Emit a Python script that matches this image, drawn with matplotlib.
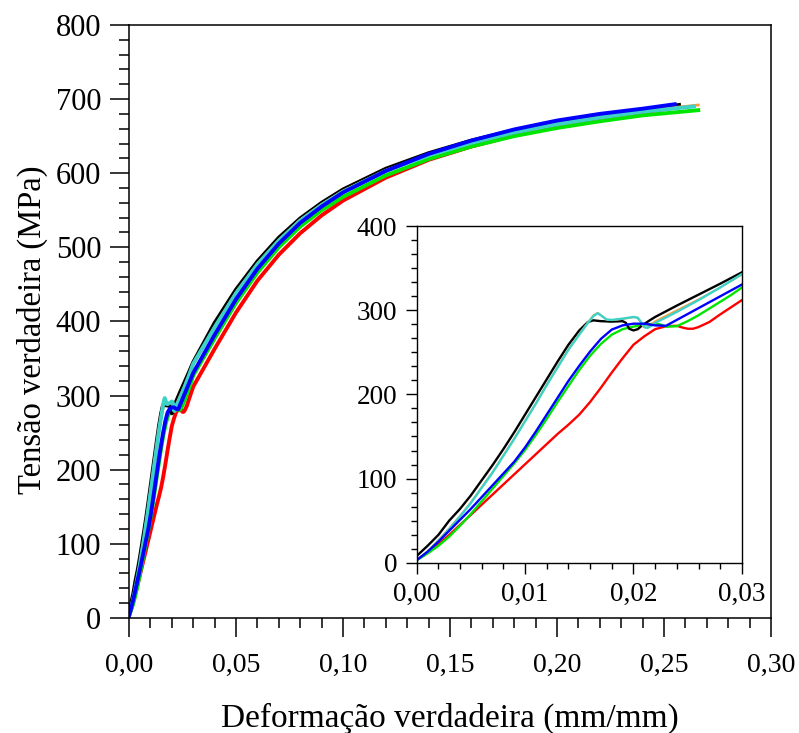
import matplotlib
matplotlib.use("Agg")
import matplotlib.pyplot as plt
from matplotlib.ticker import MultipleLocator, FuncFormatter

plt.rcParams["font.family"] = ["Liberation Serif", "DejaVu Serif"]

# True strain (mm/mm) and true stress (MPa) for each specimen
strain_black = [0.0, 0.001, 0.002, 0.003, 0.004, 0.005, 0.006, 0.007, 0.008, 0.009,
                0.010, 0.011, 0.012, 0.013, 0.014, 0.015, 0.0158, 0.0163, 0.017, 0.018,
                0.019, 0.0193, 0.0196, 0.0200, 0.0204, 0.0208, 0.0215, 0.022, 0.024, 0.026,
                0.028, 0.030,
                0.04, 0.05, 0.06, 0.07, 0.08, 0.09, 0.10, 0.12, 0.14, 0.16, 0.18, 0.20,
                0.22, 0.24, 0.257]
stress_black = [8, 20, 33, 50, 64, 80, 98, 116, 135, 155,
                176, 197, 218, 239, 259, 276, 286, 288, 287, 286.5,
                287, 285, 278, 276, 277.5, 282, 288, 292, 305.5, 318.5,
                331.5, 345,
                398, 443, 481, 513, 539, 560, 578, 606, 627, 644, 658, 669,
                678, 686, 692]

strain_orange = [0.0, 0.001, 0.002, 0.003, 0.004, 0.005, 0.006, 0.007, 0.008, 0.009,
                 0.010, 0.011, 0.012, 0.013, 0.014, 0.015, 0.0158, 0.0163, 0.0167, 0.0171,
                 0.0175, 0.018, 0.019, 0.020, 0.0203, 0.0206, 0.0209, 0.0212, 0.0216, 0.022,
                 0.024, 0.026, 0.028, 0.030,
                 0.04, 0.05, 0.06, 0.07, 0.08, 0.09, 0.10, 0.12, 0.14, 0.16, 0.18, 0.20,
                 0.22, 0.24, 0.266]
stress_orange = [3, 14, 27, 41, 56, 72, 90, 108, 128, 148,
                 169, 190, 212, 233, 254, 272, 286, 294, 297, 293,
                 289, 288, 289.5, 291.5, 291.5, 287, 280, 279, 283, 287,
                 300, 313, 327, 342,
                 393, 439, 478, 510, 537, 558, 576, 604, 625, 642, 656, 667,
                 676, 684, 692]

strain_cyan = [0.0, 0.001, 0.002, 0.003, 0.004, 0.005, 0.006, 0.007, 0.008, 0.009,
               0.010, 0.011, 0.012, 0.013, 0.014, 0.015, 0.0158, 0.0163, 0.0167, 0.0171,
               0.0175, 0.018, 0.019, 0.020, 0.0204, 0.0207, 0.021, 0.0213, 0.0217, 0.022,
               0.024, 0.026, 0.028, 0.030,
               0.04, 0.05, 0.06, 0.07, 0.08, 0.09, 0.10, 0.12, 0.14, 0.16, 0.18, 0.20,
               0.22, 0.24, 0.264]
stress_cyan = [3, 13, 26, 40, 55, 71, 89, 107, 127, 147,
               168, 189, 211, 232, 253, 271, 285, 293, 296.5, 293,
               289, 288.5, 290, 292, 291, 286, 280, 279, 282, 285,
               298, 312, 327, 343,
               392, 438, 477, 509, 536, 557, 575, 603, 624, 641, 655, 666,
               675, 683, 690]

strain_blue = [0.0, 0.001, 0.002, 0.003, 0.004, 0.005, 0.006, 0.007, 0.008, 0.009,
               0.010, 0.011, 0.012, 0.013, 0.014, 0.015, 0.016, 0.017, 0.018, 0.019,
               0.020, 0.021, 0.022, 0.023, 0.024, 0.025, 0.026, 0.027, 0.028, 0.029,
               0.030,
               0.04, 0.05, 0.06, 0.07, 0.08, 0.09, 0.10, 0.12, 0.14, 0.16, 0.18, 0.20,
               0.22, 0.24, 0.255]
stress_blue = [3, 13, 25, 38, 51, 64, 78, 92, 106, 120,
               137, 156, 176, 196, 216, 234, 251, 266, 277, 282,
               284, 284, 282, 281.5, 288.5, 295.5, 302.5, 309.5, 316.5, 323.5,
               330.5,
               382, 430, 471, 505, 533, 555, 574, 603, 626, 644, 659, 671,
               680, 687, 693]

strain_green = [0.0, 0.001, 0.002, 0.003, 0.004, 0.005, 0.006, 0.007, 0.008, 0.009,
                0.010, 0.011, 0.012, 0.013, 0.014, 0.015, 0.016, 0.017, 0.018, 0.019,
                0.020, 0.021, 0.022, 0.0225, 0.023, 0.024, 0.025, 0.026, 0.027, 0.028,
                0.029, 0.030,
                0.04, 0.05, 0.06, 0.07, 0.08, 0.09, 0.10, 0.12, 0.14, 0.16, 0.18, 0.20,
                0.22, 0.24, 0.266]
stress_green = [3, 11, 20, 31, 44, 58, 73, 88, 103, 118,
                134, 152, 171, 191, 210, 229, 246, 260, 271, 277.5,
                280.5, 283, 284, 283, 280.5, 281, 287, 294, 302, 310,
                318, 327,
                377, 425, 466, 500, 528, 550, 568, 597, 619, 636, 650, 661,
                670, 678, 685]

strain_red = [0.0, 0.001, 0.002, 0.003, 0.004, 0.005, 0.006, 0.007, 0.008, 0.009,
              0.010, 0.011, 0.012, 0.013, 0.014, 0.015, 0.016, 0.017, 0.018, 0.019,
              0.020, 0.021, 0.022, 0.023, 0.024, 0.0245, 0.025, 0.0255, 0.026, 0.027,
              0.028, 0.029, 0.030,
              0.04, 0.05, 0.06, 0.07, 0.08, 0.09, 0.10, 0.12, 0.14, 0.16, 0.18, 0.20,
              0.22, 0.24, 0.257]
stress_red = [3, 12, 22, 33, 45, 57, 69, 81, 93, 105,
              117, 129, 141, 153, 164, 176, 191, 208, 226, 243,
              259, 269, 277.5, 281, 281.5, 279.5, 278, 278, 280, 286,
              295, 303.5, 312,
              363, 412, 455, 490, 519, 543, 563, 594, 618, 636, 651, 663,
              673, 682, 689]

series = [
    (strain_red, stress_red, "#ff0000", 1.0),
    (strain_green, stress_green, "#00e600", 1.0),
    (strain_black, stress_black, "#000000", 1.0),
    (strain_orange, stress_orange, "#ff9a3c", 0.7),
    (strain_cyan, stress_cyan, "#3cd2c8", 1.0),
    (strain_blue, stress_blue, "#0000ff", 1.0),
]

comma = FuncFormatter(lambda v, p: f"{v:.2f}".replace(".", ","))
intfmt = FuncFormatter(lambda v, p: f"{v:.0f}")

fig = plt.figure(figsize=(7.99, 7.33), dpi=100)
ax = fig.add_axes([0.1615, 0.157, 0.8035, 0.809])

for x, y, c, w in series:
    ax.plot(x, y, color=c, lw=2.8 * w, solid_joinstyle="round")

ax.set_xlim(0, 0.30)
ax.set_ylim(0, 800)
ax.xaxis.set_major_locator(MultipleLocator(0.05))
ax.xaxis.set_minor_locator(MultipleLocator(0.01))
ax.yaxis.set_major_locator(MultipleLocator(100))
ax.yaxis.set_minor_locator(MultipleLocator(20))
ax.xaxis.set_major_formatter(comma)
ax.yaxis.set_major_formatter(intfmt)
ax.tick_params(which="major", direction="out", length=14, width=1.1)
ax.tick_params(axis="x", which="major", pad=11, labelsize=20)
ax.tick_params(axis="y", which="major", pad=6, labelsize=22)
ax.tick_params(which="minor", direction="out", length=7, width=1.1)
for s in ax.spines.values():
    s.set_linewidth(1.1)
ax.set_xlabel("Deformação verdadeira (mm/mm)", fontsize=24, labelpad=18)
ax.set_ylabel("Tensão verdadeira (MPa)", fontsize=23.5)
ax.yaxis.set_label_coords(-0.127, 0.486)

# zoomed view of the elastic region and yield point
ins = fig.add_axes([0.5215, 0.2323, 0.407, 0.4593])
for x, y, c, w in series:
    ins.plot(x, y, color=c, lw=1.7 * w, solid_joinstyle="round")
ins.set_xlim(0, 0.03)
ins.set_ylim(0, 400)
ins.xaxis.set_major_locator(MultipleLocator(0.01))
ins.xaxis.set_minor_locator(MultipleLocator(0.002))
ins.yaxis.set_major_locator(MultipleLocator(100))
ins.yaxis.set_minor_locator(MultipleLocator(100 / 6))
ins.xaxis.set_major_formatter(comma)
ins.yaxis.set_major_formatter(intfmt)
ins.tick_params(which="major", direction="out", length=8, width=1.0, labelsize=19.5, pad=6)
ins.tick_params(which="minor", direction="out", length=4.5, width=1.0)
for s in ins.spines.values():
    s.set_linewidth(1.0)

fig.savefig("out.png", dpi=100)
